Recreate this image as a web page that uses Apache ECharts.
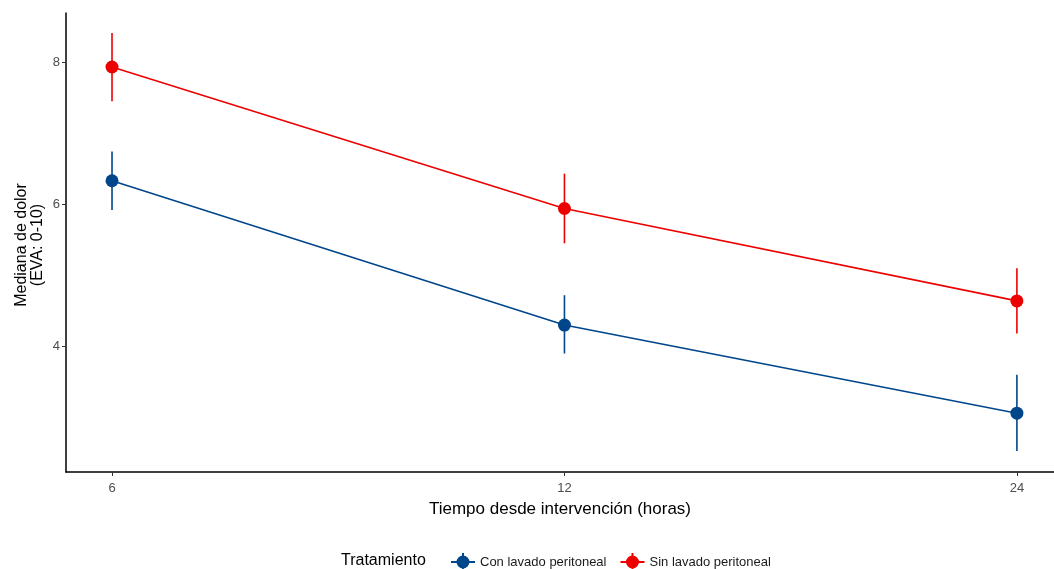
<!DOCTYPE html>
<html>
<head>
<meta charset="utf-8">
<script src="https://cdn.jsdelivr.net/npm/echarts@6/dist/echarts.min.js"></script>
<style>
  html, body { margin: 0; padding: 0; background: #fff; }
  #chart { width: 1054px; height: 569px; }
</style>
</head>
<body>
<div id="chart"></div>
<script>
const horas = ["6", "12", "24"];
const yTicks = [4, 6, 8];

const conMedian = [6.33, 4.30, 3.06];
const conLow = [5.92, 3.90, 2.53];
const conHigh = [6.74, 4.72, 3.60];

const sinMedian = [7.93, 5.94, 4.64];
const sinLow = [7.45, 5.45, 4.18];
const sinHigh = [8.41, 6.43, 5.10];

const BLUE = "#00468B";
const RED = "#ED0000";

const legendIcon =
  "path://M0,9L24,9L24,11L0,11Z M11,1L13,1L13,19L11,19Z M18.5,10A6.5,6.5 0 1 1 5.5,10A6.5,6.5 0 1 1 18.5,10Z";

const chart = echarts.init(document.getElementById("chart"));

const errorSeries = (name, low, high, color) => ({
  name,
  type: "custom",
  silent: true,
  z: 1,
  data: low.map((l, i) => [i, l, high[i]]),
  renderItem: (params, api) => {
    const a = api.coord([api.value(0), api.value(1)]);
    const b = api.coord([api.value(0), api.value(2)]);
    return {
      type: "line",
      shape: { x1: a[0], y1: a[1], x2: b[0], y2: b[1] },
      style: { stroke: color, lineWidth: 1.6 },
    };
  },
});

const lineSeries = (name, values, color) => ({
  name,
  type: "line",
  z: 2,
  data: values.map((v, i) => [i, v]),
  symbol: "circle",
  symbolSize: 13,
  lineStyle: { color, width: 1.6 },
  itemStyle: { color },
});

const option = {
  animation: false,
  backgroundColor: "#ffffff",
  grid: { left: 66, right: 0, top: 13, bottom: 97, outerBoundsMode: "none" },
  xAxis: {
    type: "value",
    min: -0.1017,
    max: 2.082,
    name: "Tiempo desde intervención (horas)",
    nameLocation: "middle",
    nameGap: 29,
    nameTextStyle: { color: "#000", fontSize: 17, fontFamily: "Liberation Sans" },
    splitLine: { show: false },
    axisLine: { show: true, onZero: false, lineStyle: { color: "#000", width: 1.5 } },
    axisTick: {
      show: true,
      length: 4,
      customValues: [0, 1, 2],
      lineStyle: { color: "#333", width: 1 },
    },
    axisLabel: {
      customValues: [0, 1, 2],
      formatter: (v) => horas[Math.round(v)],
      color: "#4d4d4d",
      fontSize: 13,
      margin: 10,
      fontFamily: "Liberation Sans",
    },
  },
  yAxis: {
    type: "value",
    min: 2.233,
    max: 8.69,
    splitLine: { show: false },
    axisLine: { show: true, onZero: false, lineStyle: { color: "#000", width: 1.5 } },
    axisTick: {
      show: true,
      length: 4,
      customValues: yTicks,
      lineStyle: { color: "#333", width: 1 },
    },
    axisLabel: {
      customValues: yTicks,
      color: "#4d4d4d",
      fontSize: 13,
      margin: 6,
      fontFamily: "Liberation Sans",
    },
  },
  legend: {
    left: 446,
    top: 548,
    itemWidth: 24,
    itemHeight: 20,
    itemGap: 14,
    textStyle: { color: "#1a1a1a", fontSize: 13, fontFamily: "Liberation Sans" },
    data: [
      { name: "Con lavado peritoneal", icon: legendIcon, itemStyle: { color: BLUE } },
      { name: "Sin lavado peritoneal", icon: legendIcon, itemStyle: { color: RED } },
    ],
  },
  graphic: [
    {
      type: "text",
      x: 30,
      y: 245,
      rotation: Math.PI / 2,
      style: {
        text: "Mediana de dolor\n(EVA: 0-10)",
        fill: "#000",
        fontSize: 16,
        lineHeight: 16,
        align: "center",
        verticalAlign: "middle",
        fontFamily: "Liberation Sans",
      },
    },
    {
      type: "text",
      left: 341,
      top: 553,
      style: {
        text: "Tratamiento",
        fill: "#000",
        fontSize: 16,
        fontFamily: "Liberation Sans",
      },
    },
  ],
  series: [
    errorSeries("Con lavado peritoneal", conLow, conHigh, BLUE),
    errorSeries("Sin lavado peritoneal", sinLow, sinHigh, RED),
    lineSeries("Con lavado peritoneal", conMedian, BLUE),
    lineSeries("Sin lavado peritoneal", sinMedian, RED),
  ],
};

chart.setOption(option);
</script>
</body>
</html>
